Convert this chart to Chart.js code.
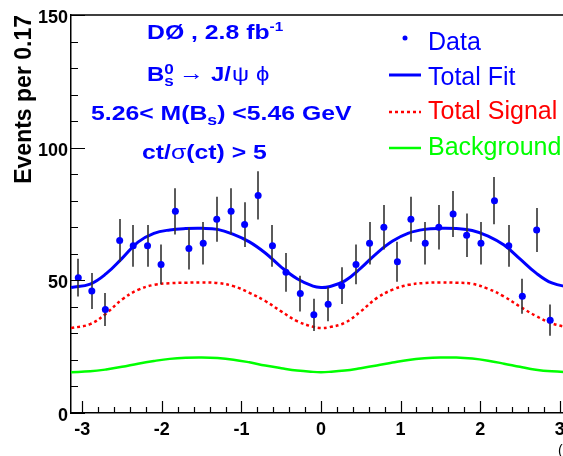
<!DOCTYPE html>
<html>
<head>
<meta charset="utf-8">
<script src="https://cdn.jsdelivr.net/npm/chart.js@4.4.1/dist/chart.umd.min.js"></script>
<style>
  html, body { margin: 0; padding: 0; background: #fff; overflow: hidden; }
  #grafico { display: block; }
</style>
</head>
<body>
<canvas id="grafico" width="600" height="456"></canvas>
<script>
// Centros dos bins em phi (largura 0.17 rad)
const binCentros = [
  -3.05, -2.88, -2.71, -2.53, -2.36, -2.18, -2.01, -1.83, -1.66, -1.48,
  -1.31, -1.13, -0.96, -0.79, -0.61, -0.44, -0.26, -0.09, 0.09, 0.26,
  0.44, 0.61, 0.79, 0.96, 1.13, 1.31, 1.48, 1.66, 1.83, 2.01,
  2.18, 2.36, 2.53, 2.71, 2.88,
];
const eventos = [
  51, 46, 39, 65, 63, 63, 56, 76, 62, 64,
  73, 76, 71, 82, 63, 53, 45, 37, 41, 48,
  56, 64, 70, 57, 73, 64, 70, 75, 67, 64,
  80, 63, 44, 69, 35,
];
const erros = [
  7.1, 6.8, 6.2, 8.1, 7.9, 7.9, 7.5, 8.7, 7.9, 8.0,
  8.5, 8.7, 8.4, 9.1, 7.9, 7.3, 6.7, 6.1, 6.4, 6.9,
  7.5, 8.0, 8.4, 7.5, 8.5, 8.0, 8.4, 8.7, 8.2, 8.0,
  8.9, 7.9, 6.6, 8.3, 5.9,
];

// Curvas do ajuste, amostradas em phi
const phiAjuste = [
  -3.14, -2.9, -2.7, -2.5, -2.3, -2.1, -1.9, -1.7, -1.5, -1.3, -1.1,
  -0.9, -0.7, -0.5, -0.3, -0.1, 0, 0.1, 0.3, 0.5, 0.7, 0.9,
  1.1, 1.3, 1.5, 1.7, 1.9, 2.1, 2.3, 2.5, 2.7, 2.9, 3.14,
];
const ajusteTotal = [
  47.3, 48.6, 52.5, 58.3, 64.4, 67.7, 69.0, 69.5, 69.6, 69.2, 67.3,
  64.5, 60.3, 55.0, 50.6, 47.8, 47.3, 47.6, 49.8, 54.6, 60.2, 64.8,
  67.8, 69.2, 69.6, 69.5, 68.8, 66.7, 63.3, 58.1, 52.8, 49.0, 47.3,
];
const sinalTotal = [
  32.0, 33.5, 37.5, 42.8, 46.4, 48.3, 48.9, 49.1, 49.2, 49.0, 47.8,
  45.3, 42.2, 38.3, 34.6, 32.5, 32.0, 32.3, 34.0, 38.3, 43.3, 46.5,
  48.3, 49.0, 49.2, 49.1, 48.7, 46.8, 43.9, 40.1, 36.6, 33.8, 32.0,
];
const fundo = [
  15.4, 15.7, 16.4, 17.4, 18.6, 19.6, 20.4, 20.8, 20.9, 20.7, 20.1,
  19.1, 17.9, 16.9, 16.0, 15.5, 15.4, 15.5, 16.0, 16.9, 17.9, 19.0,
  20.0, 20.6, 20.9, 20.9, 20.5, 19.7, 18.6, 17.4, 16.3, 15.7, 15.4,
];

const AZUL = "#0000ff";
const VERMELHO = "#ff0000";
const VERDE = "#00ff00";
const FONTE = "'Liberation Sans', Arial, sans-serif";

const pontos = (xs, ys) => xs.map((x, i) => ({ x: x, y: ys[i] }));

// Barras de erro por baixo dos pontos
const barrasErro = {
  id: "barrasErro",
  beforeDatasetDraw(chart, args) {
    if (args.index !== 0) return;
    const { ctx, chartArea: a, scales: { x, y } } = chart;
    ctx.save();
    ctx.beginPath();
    ctx.rect(a.left, a.top, a.right - a.left, a.bottom - a.top);
    ctx.clip();
    ctx.strokeStyle = "#333";
    ctx.lineWidth = 1.6;
    ctx.beginPath();
    binCentros.forEach((phi, i) => {
      const px = Math.round(x.getPixelForValue(phi));
      ctx.moveTo(px, y.getPixelForValue(eventos[i] - erros[i]));
      ctx.lineTo(px, y.getPixelForValue(eventos[i] + erros[i]));
    });
    ctx.stroke();
    ctx.restore();
  },
};

// Moldura e marcas dos eixos voltadas para dentro
const moldura = {
  id: "moldura",
  afterDraw(chart) {
    const { ctx, chartArea: a, scales: { x, y } } = chart;
    ctx.save();
    ctx.strokeStyle = "#000";
    ctx.lineWidth = 1.5;
    ctx.beginPath();
    ctx.moveTo(a.left, a.top);
    ctx.lineTo(a.right, a.top);
    ctx.lineTo(a.right, a.bottom);
    ctx.stroke();
    ctx.lineWidth = 1.2;
    ctx.beginPath();
    for (let v = -30; v <= 30; v += 2) {
      const px = Math.round(x.getPixelForValue(v / 10)) + 0.5;
      const len = v % 10 === 0 ? 12 : 6;
      ctx.moveTo(px, a.bottom);
      ctx.lineTo(px, a.bottom - len);
    }
    for (let v = 0; v <= 150; v += 10) {
      const py = Math.round(y.getPixelForValue(v)) + 0.5;
      const len = v % 50 === 0 ? 14 : 7;
      ctx.moveTo(a.left, py);
      ctx.lineTo(a.left + len, py);
    }
    ctx.stroke();
    ctx.restore();
  },
};

// Texto em partes (índices e expoentes), esticado na horizontal.
// Uma parte com "x" começa nessa posição absoluta.
function escreverPartes(ctx, x, y, partes, esticar) {
  ctx.save();
  ctx.translate(x, y);
  ctx.scale(esticar, 1);
  let cx = 0;
  partes.forEach((p) => {
    if (p.x !== undefined) cx = (p.x - x) / esticar;
    ctx.font = p.fonte;
    ctx.fillText(p.t, cx, p.dy || 0);
    if (!p.empilhar) cx += ctx.measureText(p.t).width;
  });
  ctx.restore();
}

const textos = {
  id: "textos",
  afterDraw(chart) {
    const ctx = chart.ctx;
    const b21 = "bold 21px " + FONTE;
    const b15 = "bold 15px " + FONTE;
    const r21 = "21px " + FONTE;
    ctx.save();
    ctx.fillStyle = AZUL;
    ctx.textBaseline = "alphabetic";
    ctx.textAlign = "left";
    escreverPartes(ctx, 147, 39, [
      { t: "DØ , 2.8 fb", fonte: b21 },
      { t: "-1", fonte: "bold 13px " + FONTE, dy: -8 },
    ], 1.18);
    escreverPartes(ctx, 147, 81, [
      { t: "B", fonte: b21 },
      { t: "0", fonte: b15, dy: -7, empilhar: true },
      { t: "s", fonte: b15, dy: 5 },
      { t: "\u2192", fonte: "22px " + FONTE, x: 179, dy: -1 },
      { t: "J/", fonte: b21, x: 211 },
      { t: "\u03c8", fonte: r21, x: 232 },
      { t: "\u03d5", fonte: r21, x: 256 },
    ], 1.14);
    escreverPartes(ctx, 91, 120, [
      { t: "5.26< M(B", fonte: b21 },
      { t: "s", fonte: b15, dy: 5 },
      { t: ") <5.46 GeV", fonte: b21 },
    ], 1.18);
    escreverPartes(ctx, 142, 159, [
      { t: "ct/", fonte: b21 },
      { t: "\u03c3", fonte: r21 },
      { t: "(ct) > 5", fonte: b21 },
    ], 1.18);

    // Legenda
    const leg = chart.data.datasets;
    ctx.font = "25px " + FONTE;
    ctx.fillStyle = leg[0].backgroundColor;
    ctx.beginPath();
    ctx.arc(405, 38, 2.5, 0, Math.PI * 2);
    ctx.fill();
    ctx.fillText(leg[0].label, 428, 50);
    [[1, 75, 85], [2, 112, 119], [3, 148, 155]].forEach(([i, yl, yt]) => {
      const ds = leg[i];
      ctx.strokeStyle = ds.borderColor;
      ctx.lineWidth = ds.borderWidth;
      ctx.setLineDash(ds.borderDash || []);
      ctx.beginPath();
      ctx.moveTo(389, yl);
      ctx.lineTo(421, yl);
      ctx.stroke();
      ctx.fillStyle = ds.borderColor;
      ctx.fillText(ds.label, 428, yt);
    });
    ctx.setLineDash([]);

    // Título do eixo x, cortado na borda
    ctx.fillStyle = "#000";
    ctx.font = "14px " + FONTE;
    ctx.fillText("(rad)", 558, 455);
    ctx.restore();
  },
};

new Chart(document.getElementById("grafico"), {
  type: "scatter",
  data: {
    datasets: [
      {
        label: "Data",
        data: pontos(binCentros, eventos),
        backgroundColor: AZUL,
        borderWidth: 0,
        pointRadius: 3.5,
        order: 0,
      },
      {
        label: "Total Fit",
        data: pontos(phiAjuste, ajusteTotal),
        showLine: true,
        borderColor: AZUL,
        borderWidth: 3,
        pointRadius: 0,
        tension: 0.4,
        order: 1,
      },
      {
        label: "Total Signal",
        data: pontos(phiAjuste, sinalTotal),
        showLine: true,
        borderColor: VERMELHO,
        borderWidth: 2.5,
        borderDash: [3, 3],
        pointRadius: 0,
        tension: 0.4,
        order: 2,
      },
      {
        label: "Background",
        data: pontos(phiAjuste, fundo),
        showLine: true,
        borderColor: VERDE,
        borderWidth: 2.5,
        pointRadius: 0,
        tension: 0.4,
        order: 3,
      },
    ],
  },
  options: {
    responsive: false,
    animation: false,
    events: [],
    layout: { padding: { top: 15, right: 29, left: 0, bottom: 0 } },
    plugins: {
      legend: { display: false },
      tooltip: { enabled: false },
    },
    scales: {
      x: {
        type: "linear",
        min: -Math.PI,
        max: Math.PI,
        afterFit: (s) => { s.height = 43; },
        grid: { display: false, drawTicks: false },
        border: { display: true, color: "#000", width: 1.5 },
        ticks: {
          stepSize: 1,
          includeBounds: false,
          padding: 6,
          color: "#000",
          font: { family: FONTE, size: 18, weight: "bold" },
        },
      },
      y: {
        min: 0,
        max: 150,
        afterFit: (s) => { s.width = 71; },
        grid: { display: false, drawTicks: false },
        border: { display: true, color: "#000", width: 1.5 },
        ticks: {
          stepSize: 50,
          padding: 3,
          labelOffset: 3,
          color: "#000",
          font: { family: FONTE, size: 18, weight: "bold" },
        },
        title: {
          display: true,
          text: "Events per 0.17",
          align: "end",
          color: "#000",
          padding: { top: 11, bottom: 0 },
          font: { family: FONTE, size: 23, weight: "bold" },
        },
      },
    },
  },
  plugins: [barrasErro, moldura, textos],
});
</script>
</body>
</html>
